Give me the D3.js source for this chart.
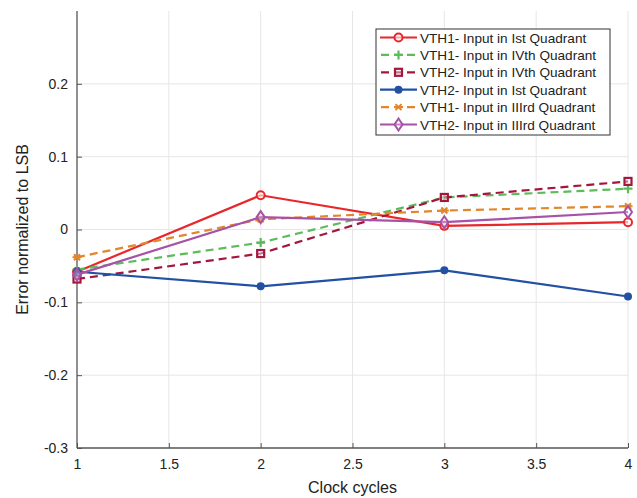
<!DOCTYPE html>
<html>
<head>
<meta charset="utf-8">
<script src="https://cdn.jsdelivr.net/npm/d3@7"></script>
<style>
  body { margin: 0; background: #fff; }
  svg { font-family: "Liberation Sans", Arial, sans-serif; }
  .grid line { stroke: #e6e6e6; stroke-width: 1; }
  .axis path, .axis line { stroke: #555; }
  .axis text { fill: #222; font-size: 14px; }
</style>
</head>
<body>
<div id="chart"></div>
<script>
'use strict'

// clock cycle index
const cycles = [1, 2, 3, 4];

const seriesNames = [
  "VTH1- Input in Ist Quadrant",
  "VTH1- Input in IVth Quadrant",
  "VTH2- Input in IVth Quadrant",
  "VTH2- Input in Ist Quadrant",
  "VTH1- Input in IIIrd Quadrant",
  "VTH2- Input in IIIrd Quadrant"
];

const vth1Ist   = [-0.058, 0.047, 0.005, 0.010];
const vth1IVth  = [-0.055, -0.018, 0.044, 0.056];
const vth2IVth  = [-0.068, -0.033, 0.044, 0.066];
const vth2Ist   = [-0.058, -0.078, -0.056, -0.092];
const vth1IIIrd = [-0.038, 0.014, 0.026, 0.032];
const vth2IIIrd = [-0.062, 0.017, 0.010, 0.024];

const xTicks = [1, 1.5, 2, 2.5, 3, 3.5, 4];
const yTicks = [-0.3, -0.2, -0.1, 0, 0.1, 0.2];

const colors = ["#e8272a", "#5cbc5a", "#a3173f", "#2250a3", "#e2862a", "#a652a6"];
const dashed = [false, true, true, false, true, false];
const markers = ["circle", "plus", "square", "dot", "star", "diamond"];

const allSeries = [vth1Ist, vth1IVth, vth2IVth, vth2Ist, vth1IIIrd, vth2IIIrd];

let svg = d3.select("#chart")
  .append("svg")
  .attr("width", 637)
  .attr("height", 498);

let margin = {top: 11, right: 9, bottom: 50, left: 77},
    width = 637 - margin.left - margin.right,
    height = 498 - margin.top - margin.bottom;

let x = d3.scaleLinear().domain([1, 4]).range([0, width]),
    y = d3.scaleLinear().domain([-0.3, 0.3]).range([height, 0]);

let g = svg.append("g")
  .attr("transform", "translate(" + margin.left + "," + margin.top + ")");

// grid
let grid = g.append("g").attr("class", "grid");
grid.selectAll(".gx").data(xTicks.slice(1)).enter().append("line")
  .attr("x1", d => x(d)).attr("x2", d => x(d))
  .attr("y1", 0).attr("y2", height);
grid.selectAll(".gy").data(yTicks.slice(1)).enter().append("line")
  .attr("x1", 0).attr("x2", width)
  .attr("y1", d => y(d)).attr("y2", d => y(d));

// axes
let fmt = d => d === 0 ? "0" : d3.format(".1f")(d).replace("−", "-");

g.append("g")
  .attr("class", "axis axis--x")
  .attr("transform", "translate(0," + height + ")")
  .call(d3.axisBottom(x).tickValues(xTicks).tickSize(-5).tickPadding(11)
    .tickFormat(d => String(d)))
  .call(a => a.select(".domain").attr("d", "M0,0H" + width));

g.append("g")
  .attr("class", "axis axis--y")
  .call(d3.axisLeft(y).tickValues(yTicks).tickSize(-5).tickPadding(9).tickFormat(fmt))
  .call(a => a.select(".domain").attr("d", "M0," + height + "V0"));

g.selectAll(".axis path.domain").attr("stroke-width", 1.3);

// labels
svg.append("text")
  .attr("x", margin.left + width / 2)
  .attr("y", 493)
  .attr("text-anchor", "middle")
  .attr("font-size", 16)
  .attr("fill", "#222")
  .text("Clock cycles");

svg.append("text")
  .attr("transform", "translate(28," + (margin.top + height / 2) + ") rotate(-90)")
  .attr("text-anchor", "middle")
  .attr("font-size", 16)
  .attr("fill", "#222")
  .text("Error normalized to LSB");

function drawMarker(sel, type, color) {
  if (type === "circle") {
    sel.append("circle").attr("r", 4).attr("fill", "#fff").attr("fill-opacity", 0.6)
      .attr("stroke", color).attr("stroke-width", 2);
  } else if (type === "dot") {
    sel.append("circle").attr("r", 4).attr("fill", color);
  } else if (type === "square") {
    sel.append("rect").attr("x", -3.5).attr("y", -3.5).attr("width", 7).attr("height", 7)
      .attr("fill", "#fff").attr("fill-opacity", 0.4)
      .attr("stroke", color).attr("stroke-width", 2.2);
  } else if (type === "plus") {
    sel.append("path").attr("d", "M-4.5,0H4.5M0,-4.5V4.5")
      .attr("stroke", color).attr("stroke-width", 2.2);
  } else if (type === "star") {
    sel.append("path").attr("d", "M-4.5,0H4.5M-3,-3L3,3M-3,3L3,-3")
      .attr("stroke", color).attr("stroke-width", 2);
  } else if (type === "diamond") {
    sel.append("path").attr("d", "M0,-6L4,0L0,6L-4,0Z")
      .attr("fill", "#fff").attr("fill-opacity", 0.3)
      .attr("stroke", color).attr("stroke-width", 2);
  }
}

let line = d3.line()
  .x((d, i) => x(cycles[i]))
  .y(d => y(d));

allSeries.forEach((vals, k) => {
  let s = g.append("g");
  s.append("path")
    .datum(vals)
    .attr("fill", "none")
    .attr("stroke", colors[k])
    .attr("stroke-width", 2.2)
    .attr("stroke-dasharray", dashed[k] ? "8,5" : null)
    .attr("d", line);
  vals.forEach((v, i) => {
    let m = s.append("g").attr("transform", "translate(" + x(cycles[i]) + "," + y(v) + ")");
    drawMarker(m, markers[k], colors[k]);
  });
});

// legend
let leg = svg.append("g").attr("transform", "translate(376,29)");
leg.append("rect")
  .attr("width", 234).attr("height", 106)
  .attr("fill", "#fff").attr("stroke", "#333").attr("stroke-width", 1);

seriesNames.forEach((name, k) => {
  let row = leg.append("g").attr("transform", "translate(0," + (8.5 + k * 17.4) + ")");
  row.append("line")
    .attr("x1", 4).attr("x2", 41)
    .attr("stroke", colors[k]).attr("stroke-width", 2.2)
    .attr("stroke-dasharray", dashed[k] ? "8,5" : null)
    .attr("stroke-dashoffset", dashed[k] ? -1 : 0);
  drawMarker(row.append("g").attr("transform", "translate(22.5,0)"), markers[k], colors[k]);
  row.append("text")
    .attr("x", 44).attr("y", 5)
    .attr("font-size", 13.6)
    .attr("fill", "#222")
    .text(name);
});
</script>
</body>
</html>
